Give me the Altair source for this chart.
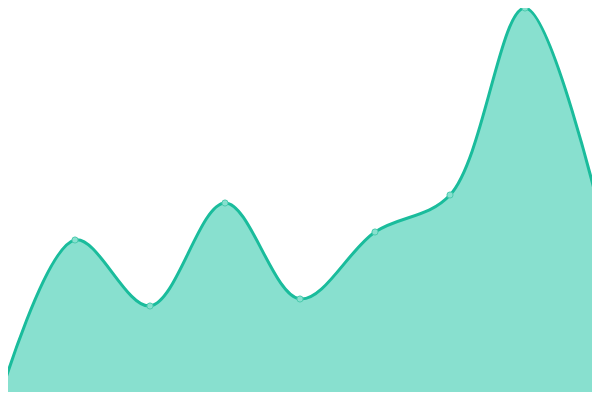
import altair as alt
import pandas as pd

idx = [0, 1, 2, 3, 4, 5, 6, 7, 8]
values = [3, 160, 94, 197, 101, 168, 205, 392, 187]

df = pd.DataFrame({"i": idx, "v": values})

xs = alt.Scale(domain=[8 / 75, 592 / 75], nice=False, zero=False)
ys = alt.Scale(domain=[8, 392], nice=False, zero=False)
x = alt.X("i:Q", scale=xs, axis=None)
y = alt.Y("v:Q", scale=ys, axis=None)

base = alt.Chart(df)
area = base.mark_area(interpolate="catmull-rom", color="#88e0cf", opacity=1, clip=True).encode(
    x=x, y=y, y2=alt.datum(0)
)
line = base.mark_line(interpolate="catmull-rom", color="#1abc9c", strokeWidth=3, clip=True).encode(x=x, y=y)
pts = base.mark_point(
    shape="circle", filled=True, fill="#88e0cf", stroke="#4ccbae", strokeWidth=1, size=38, opacity=1
).encode(x=x, y=y)

chart = (area + line + pts).properties(
    width=584, height=384, padding=0, autosize=alt.AutoSizeParams(type="none")
).configure_view(stroke=None)

chart.save("out.html", embed_options={"renderer": "svg", "actions": False})
